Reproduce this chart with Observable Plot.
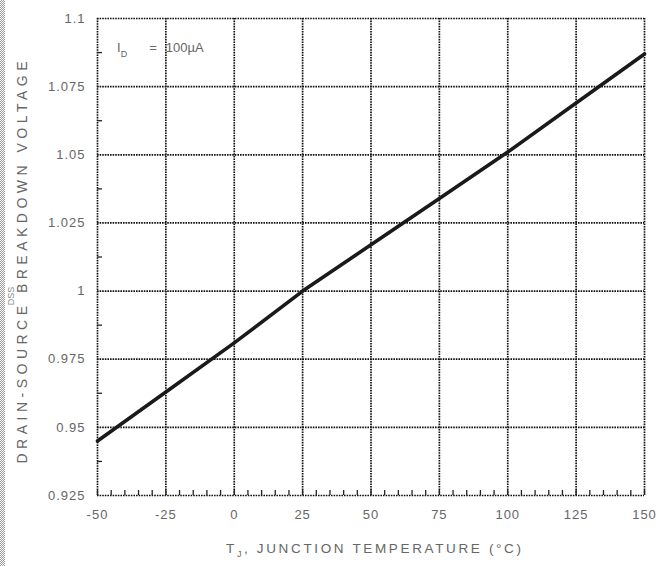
<!DOCTYPE html>
<html>
<head>
<meta charset="utf-8">
<script src="https://cdn.jsdelivr.net/npm/d3@7"></script>
<script src="https://cdn.jsdelivr.net/npm/@observablehq/plot@0.6"></script>
<style>
  html, body { margin: 0; padding: 0; background: #fff; }
  #wrap { position: relative; width: 656px; height: 566px; }
  #edge { position: absolute; left: 0; top: 0; width: 5px; height: 566px;
    background-image: repeating-conic-gradient(#9a9a9a 0% 25%, #ffffff 0% 50%);
    background-size: 2px 2px; }
  svg text { font-family: "Liberation Sans", Arial, sans-serif; }
  g[aria-label="y-axis tick label"] text, g[aria-label="x-axis tick label"] text { letter-spacing: 1px; }
</style>
</head>
<body>
<div id="wrap"><div id="edge"></div></div>
<script>
// Data
const tempC = [-50, -25, 0, 25, 50, 75, 100, 125, 150];
const bvdss = [0.945, 0.963, 0.981, 1.0, 1.017, 1.034, 1.051, 1.069, 1.087];

// Axis ticks
const xTicks = [-50, -25, 0, 25, 50, 75, 100, 125, 150];
const xTickLabels = ["-50", "-25", "0", "25", "50", "75", "100", "125", "150"];
const yTicks = [0.925, 0.95, 0.975, 1, 1.025, 1.05, 1.075, 1.1];
const yTickLabels = ["0.925", "0.95", "0.975", "1", "1.025", "1.05", "1.075", "1.1"];
const xMinor = d3.range(-50, 151, 5);
const yMinor = [0.9375, 0.9625, 0.9875, 1.0125, 1.0375, 1.0625, 1.0875];

const points = tempC.map((t, i) => ({t, v: bvdss[i]}));
const xDomain = [xTicks[0], xTicks[xTicks.length - 1]];
const yDomain = [yTicks[0], yTicks[yTicks.length - 1]];

const gridStyle = {stroke: "#111", strokeWidth: 1.7, strokeDasharray: "1.6,1"};
const textFill = "#666";

const chart = Plot.plot({
  width: 656,
  height: 566,
  marginLeft: 97,
  marginRight: 12,
  marginTop: 18,
  marginBottom: 71,
  style: {fontFamily: "Liberation Sans, Arial, sans-serif", background: "transparent"},
  x: {domain: xDomain},
  y: {domain: yDomain},
  marks: [
    Plot.ruleX(xTicks, {...gridStyle}),
    Plot.ruleY(yTicks, {...gridStyle}),
    Plot.ruleX(xMinor, {y1: yDomain[0], y2: yDomain[0], insetTop: -5, stroke: "#222", strokeWidth: 1.3}),
    Plot.ruleY(yMinor, {x1: xDomain[0], x2: xDomain[0], insetRight: -5, stroke: "#222", strokeWidth: 1.3}),
    Plot.axisX(xTicks, {tickSize: 0, tickPadding: 14, fontSize: 13, fill: textFill,
      tickFormat: (d, i) => xTickLabels[i], label: null}),
    Plot.axisY(yTicks, {tickSize: 0, tickPadding: 12, fontSize: 13, fill: textFill,
      tickFormat: (d, i) => yTickLabels[i], label: null}),
    Plot.line(points, {x: "t", y: "v", stroke: "#1a1a1a", strokeWidth: 3.6})
  ]
});

document.getElementById("wrap").appendChild(chart);
const svg = d3.select(chart);
const pLeft = 97, pRight = 656 - 12, pTop = 18, pBottom = 566 - 71;

// X axis title
const xt = svg.append("text")
  .attr("x", 226)
  .attr("y", 553)
  .attr("text-anchor", "start")
  .attr("font-size", 13.5)
  .attr("fill", textFill);
xt.append("tspan").text("T");
xt.append("tspan").attr("font-size", 9).attr("dy", 4).text("J");
xt.append("tspan").attr("dy", -4).text(", JUNCTION TEMPERATURE (°C)");
xt.attr("textLength", 295).attr("lengthAdjust", "spacing");

// Y axis title
svg.append("text")
  .attr("transform", `translate(27, ${(pTop + pBottom) / 2 + 6}) rotate(-90)`)
  .attr("text-anchor", "middle")
  .attr("font-size", 14)
  .attr("fill", textFill)
  .attr("textLength", 402)
  .attr("lengthAdjust", "spacing")
  .text("DRAIN-SOURCE BREAKDOWN VOLTAGE");

svg.append("text")
  .attr("transform", `translate(14, 296) rotate(-90)`)
  .attr("text-anchor", "middle")
  .attr("font-size", 9)
  .attr("fill", "#8a8a8a")
  .text("DSS");

// Condition annotation
const ann = svg.append("text")
  .attr("x", pLeft + 20)
  .attr("y", pTop + 34)
  .attr("text-anchor", "start")
  .attr("font-size", 13)
  .attr("fill", textFill);
ann.append("tspan").text("I");
ann.append("tspan").attr("font-size", 9).attr("dy", 5).text("D");
ann.append("tspan").attr("dy", -5).attr("dx", 22).text("=");
ann.append("tspan").attr("dx", 9).text("100µA");
</script>
</body>
</html>
